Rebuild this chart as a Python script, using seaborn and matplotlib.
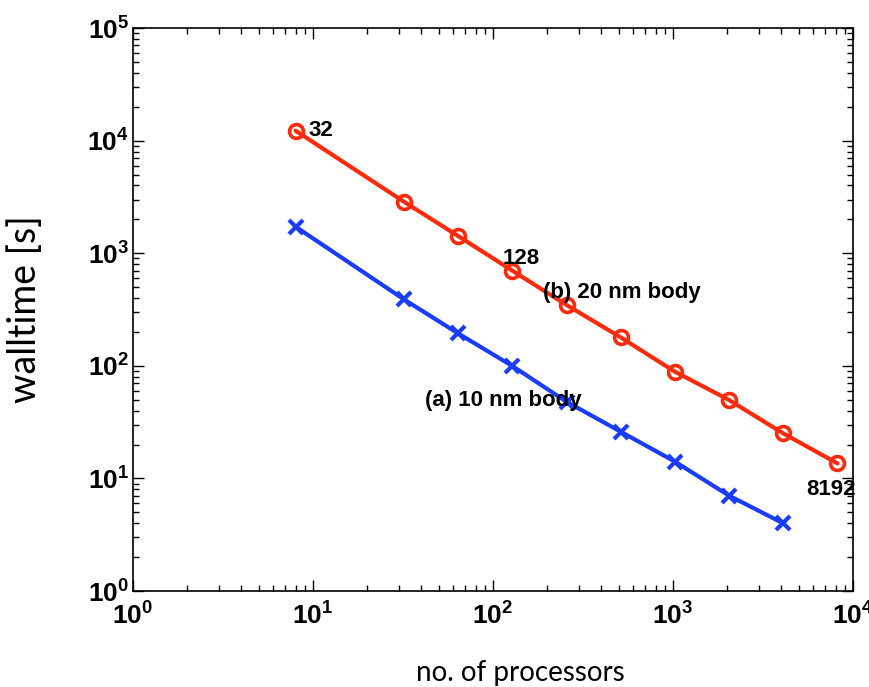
import matplotlib
matplotlib.use("Agg")
import matplotlib.pyplot as plt
import matplotlib.ticker as mticker
import numpy as np
import pandas as pd
import seaborn as sns

# Strong-scaling data: walltime vs number of processors
procs_a = [8, 32, 64, 128, 256, 512, 1024, 2048, 4096]
walltime_a = [1720, 389, 194, 99.6, 48, 26, 14.1, 7.03, 3.99]

procs_b = [8, 32, 64, 128, 256, 512, 1024, 2048, 4096, 8192]
walltime_b = [12250, 2866, 1422, 700, 347, 179, 88.7, 49.7, 25.1, 13.6]

series_labels = ["(a) 10 nm body", "(b) 20 nm body"]
point_labels = ["32", "128", "8192"]

sns.set_style("ticks")
plt.rcParams["font.family"] = ["Liberation Sans", "DejaVu Sans"]
plt.rcParams["mathtext.fontset"] = "custom"
plt.rcParams["mathtext.rm"] = "Liberation Sans:bold"
plt.rcParams["mathtext.bf"] = "Liberation Sans:bold"
plt.rcParams["mathtext.it"] = "Liberation Sans:bold"
for key in ["text.color", "axes.labelcolor", "xtick.color", "ytick.color", "axes.edgecolor"]:
    plt.rcParams[key] = "black"

df_a = pd.DataFrame({"procs": procs_a, "walltime": walltime_a})
df_b = pd.DataFrame({"procs": procs_b, "walltime": walltime_b})

red = "#FF2A0A"
blue = "#1A3CFF"

fig = plt.figure(figsize=(8.7, 6.87), dpi=100)
ax = fig.add_axes([0.1529, 0.1397, 0.8276, 0.8195])

sns.lineplot(data=df_b, x="procs", y="walltime", ax=ax, color=red, lw=3.0,
             marker="o", markersize=10, markerfacecolor="none",
             markeredgecolor=red, markeredgewidth=2.6)
sns.lineplot(data=df_a, x="procs", y="walltime", ax=ax, color=blue, lw=3.0,
             marker="x", markersize=9.5, markeredgecolor=blue,
             markeredgewidth=3.0)

ax.set_xscale("log")
ax.set_yscale("log")
ax.set_xlim(1, 1e4)
ax.set_ylim(1, 1e5)


def sci(v, pos):
    e = int(round(np.log10(v)))
    return r"$\mathbf{10^{%d}}$" % e


ax.xaxis.set_major_locator(mticker.LogLocator(base=10, numticks=10))
ax.yaxis.set_major_locator(mticker.LogLocator(base=10, numticks=10))
ax.xaxis.set_minor_locator(mticker.LogLocator(base=10, subs=np.arange(2, 10), numticks=20))
ax.yaxis.set_minor_locator(mticker.LogLocator(base=10, subs=np.arange(2, 10), numticks=20))
ax.xaxis.set_major_formatter(mticker.FuncFormatter(sci))
ax.yaxis.set_major_formatter(mticker.FuncFormatter(sci))
ax.xaxis.set_minor_formatter(mticker.NullFormatter())
ax.yaxis.set_minor_formatter(mticker.NullFormatter())

ax.tick_params(which="both", direction="in", top=True, right=True, width=1.0, color="black")
ax.tick_params(which="major", length=8, labelsize=19)
ax.tick_params(axis="x", which="major", pad=8)
ax.tick_params(axis="y", which="major", pad=3)
ax.tick_params(which="minor", length=4.5)
for sp in ax.spines.values():
    sp.set_visible(True)
    sp.set_linewidth(1.2)
    sp.set_color("black")

ax.set_xlabel("no. of processors", fontsize=20, family=["Lato", "DejaVu Sans"])
ax.xaxis.set_label_coords(0.5375, -0.122)
ax.set_ylabel("walltime [s]", fontsize=27, family=["Lato", "DejaVu Sans"])
ax.yaxis.set_label_coords(-0.125, 0.5)

lab_kw = dict(fontsize=16, fontweight="bold", family=["Liberation Sans", "DejaVu Sans"])
ax.text(190, 452, series_labels[1], ha="left", va="center", **lab_kw)
ax.text(42, 49.7, series_labels[0], ha="left", va="center", **lab_kw)
ax.text(9.38, 12300, point_labels[0], ha="left", va="center", **lab_kw)
ax.text(143, 906, point_labels[1], ha="center", va="center", **lab_kw)
ax.text(7550, 7.9, point_labels[2], ha="center", va="center", **lab_kw)

fig.savefig("out.png", dpi=100)
